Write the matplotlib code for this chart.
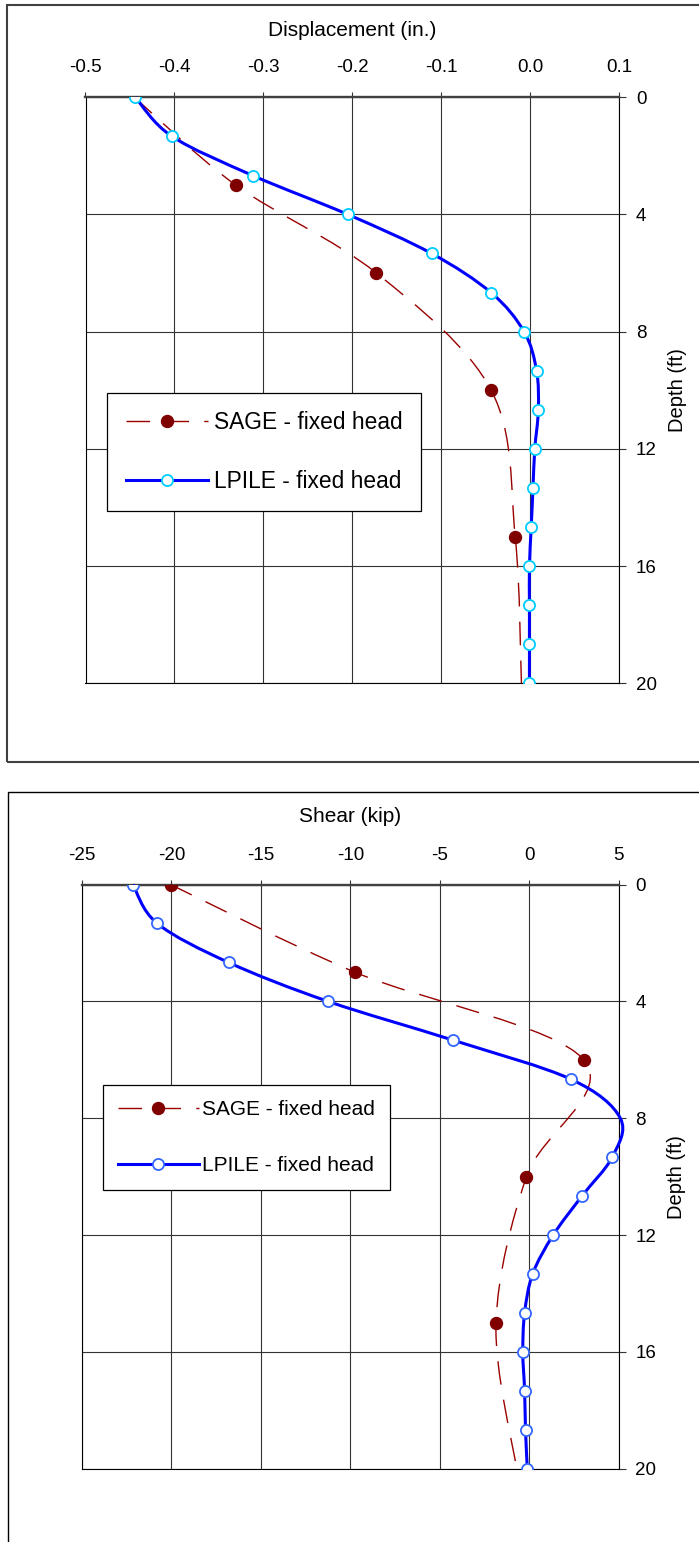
import numpy as np
import matplotlib
matplotlib.use('Agg')
import matplotlib.pyplot as plt
from matplotlib.path import Path
from matplotlib.patches import PathPatch, Rectangle
from matplotlib.lines import Line2D

plt.rcParams['font.family'] = ['Liberation Sans', 'DejaVu Sans']

# depths (ft)
lpile_depth = [0, 1.33, 2.67, 4, 5.33, 6.67, 8, 9.33, 10.67, 12, 13.33, 14.67, 16, 17.33, 18.67, 20]
sage_depth = [0, 3, 6, 10, 15, 20]

# displacement (in.)
lpile_disp = [-0.444, -0.403, -0.312, -0.205, -0.111, -0.044, -0.007, 0.007,
              0.009, 0.005, 0.003, 0.001, -0.001, -0.001, -0.001, -0.001]
sage_disp = [-0.445, -0.331, -0.173, -0.044, -0.017, -0.010]

# shear (kip)
lpile_shear = [-22.15, -20.8, -16.8, -11.25, -4.25, 2.35, 5.1, 4.65,
               2.95, 1.35, 0.2, -0.25, -0.35, -0.25, -0.2, -0.1]
sage_shear = [-20.05, -9.75, 3.05, -0.15, -1.85, -0.7]

disp_ticks = [-0.5, -0.4, -0.3, -0.2, -0.1, 0.0, 0.1]
disp_labels = ['-0.5', '-0.4', '-0.3', '-0.2', '-0.1', '0.0', '0.1']
shear_ticks = [-25, -20, -15, -10, -5, 0, 5]
shear_labels = ['-25', '-20', '-15', '-10', '-5', '0', '5']
depth_ticks = [0, 4, 8, 12, 16, 20]

labels = ['SAGE - fixed head', 'LPILE - fixed head']

W, H = 699, 1542
SAGE_LINE = '#990000'
SAGE_MARK = '#800000'


def fx(px):
    return px / W


def fy(py):
    return 1 - py / H


def smooth_path(xs, ys):
    # excel-like smoothed line (bezier through the data points)
    p = np.column_stack([xs, ys]).astype(float)
    n = len(p)
    verts = [p[0]]
    codes = [Path.MOVETO]
    for i in range(n - 1):
        prev = p[max(i - 1, 0)]
        nxt = p[min(i + 2, n - 1)]
        c1 = p[i] + (p[i + 1] - prev) / 6
        c2 = p[i + 1] - (nxt - p[i]) / 6
        verts += [c1, c2, p[i + 1]]
        codes += [Path.CURVE4] * 3
    return Path(verts, codes)


def draw_panel(ax, lp_x, sg_x, xlim, xticks, xlabels, lp_edge, sage_marked,
               leg_anchor, leg_fs, leg_kw):
    # SAGE
    ax.add_patch(PathPatch(smooth_path(sg_x, sage_depth), fill=False,
                           edgecolor=SAGE_LINE, lw=1.0, linestyle=(0, (17, 11)),
                           capstyle='butt', clip_on=False, zorder=3))
    ax.plot(sg_x, sage_depth, ls='none', marker='o', ms=8.6, mfc=SAGE_MARK,
            mec=SAGE_MARK, markevery=sage_marked, zorder=4)
    # LPILE
    ax.add_patch(PathPatch(smooth_path(lp_x, lpile_depth), fill=False,
                           edgecolor='#0000FF', lw=2.2, capstyle='butt',
                           joinstyle='round', clip_on=False, zorder=5))
    shown = [i for i, v in enumerate(lp_x) if xlim[0] <= v <= xlim[1]]
    ax.plot(lp_x, lpile_depth, ls='none', marker='o', ms=8.0, mfc='white',
            mec=lp_edge, mew=1.3, markevery=shown, zorder=6)

    ax.set_xlim(*xlim)
    ax.set_ylim(20, 0)
    ax.set_xticks(xticks)
    ax.set_xticklabels(xlabels)
    ax.set_yticks(depth_ticks)
    ax.xaxis.tick_top()
    ax.yaxis.tick_right()
    ax.tick_params(axis='x', direction='out', length=3.6, width=0.8,
                   pad=11.5, labelsize=13.5, color='#333333')
    ax.tick_params(axis='y', direction='out', length=5, width=0.8,
                   pad=7, labelsize=13.5, color='#333333')
    ax.grid(True, color='#333333', lw=0.8)
    ax.set_axisbelow(True)
    for side in ['left', 'right', 'bottom']:
        ax.spines[side].set_color('black')
        ax.spines[side].set_linewidth(0.8)
    ax.spines['top'].set_color('#404040')
    ax.spines['top'].set_linewidth(1.7)

    handles = [
        Line2D([], [], color=SAGE_LINE, lw=1.0, dashes=(17, 11), marker='o',
               ms=8.6, mfc=SAGE_MARK, mec=SAGE_MARK),
        Line2D([], [], color='#0000FF', lw=2.2, marker='o', ms=8.0,
               mfc='white', mec=lp_edge, mew=1.3),
    ]
    leg = ax.legend(handles, labels, loc='upper left', bbox_to_anchor=leg_anchor,
                    borderaxespad=0, fancybox=False, edgecolor='black',
                    framealpha=1, fontsize=leg_fs, **leg_kw)
    leg.get_frame().set_linewidth(0.9)
    leg.set_zorder(10)


fig = plt.figure(figsize=(W / 100, H / 100), dpi=100)

# outer chart boxes
fig.add_artist(Rectangle((fx(7), fy(762)), 2, (762 - 5) / H, fill=False,
                         edgecolor='#404040', lw=1.5, transform=fig.transFigure))
fig.add_artist(Rectangle((fx(8), -0.2), 2, fy(792) + 0.2, fill=False,
                         edgecolor='black', lw=1.0, transform=fig.transFigure))

ax1 = fig.add_axes([fx(85.5), fy(683.3), (619.3 - 85.5) / W, (683.3 - 97.3) / H])
draw_panel(ax1, lpile_disp, sage_disp, (-0.5, 0.1), disp_ticks, disp_labels,
           '#00CCFF', slice(1, -1), (0.0408, 0.4959), 16.4,
           dict(handlelength=3.6, handletextpad=0.3, labelspacing=1.59,
                borderpad=0.8))
fig.text(fx(352.4), fy(30), 'Displacement (in.)', ha='center', va='center',
         fontsize=15)
fig.text(fx(677.5), fy(390.3), 'Depth (ft)', ha='center', va='center',
         rotation=90, fontsize=14.5)

ax2 = fig.add_axes([fx(82), fy(1468.7), (618.5 - 82) / W, (1468.7 - 884.5) / H])
draw_panel(ax2, lpile_shear, sage_shear, (-25, 5), shear_ticks, shear_labels,
           '#3366FF', slice(0, -1), (0.0386, 0.6568), 15,
           dict(handlelength=3.9, handletextpad=0.16, labelspacing=1.8,
                borderpad=0.72))
fig.text(fx(350), fy(817), 'Shear (kip)', ha='center', va='center', fontsize=15)
fig.text(fx(676.5), fy(1176.6), 'Depth (ft)', ha='center', va='center',
         rotation=90, fontsize=14.5)

fig.savefig('out.png', dpi=100)
